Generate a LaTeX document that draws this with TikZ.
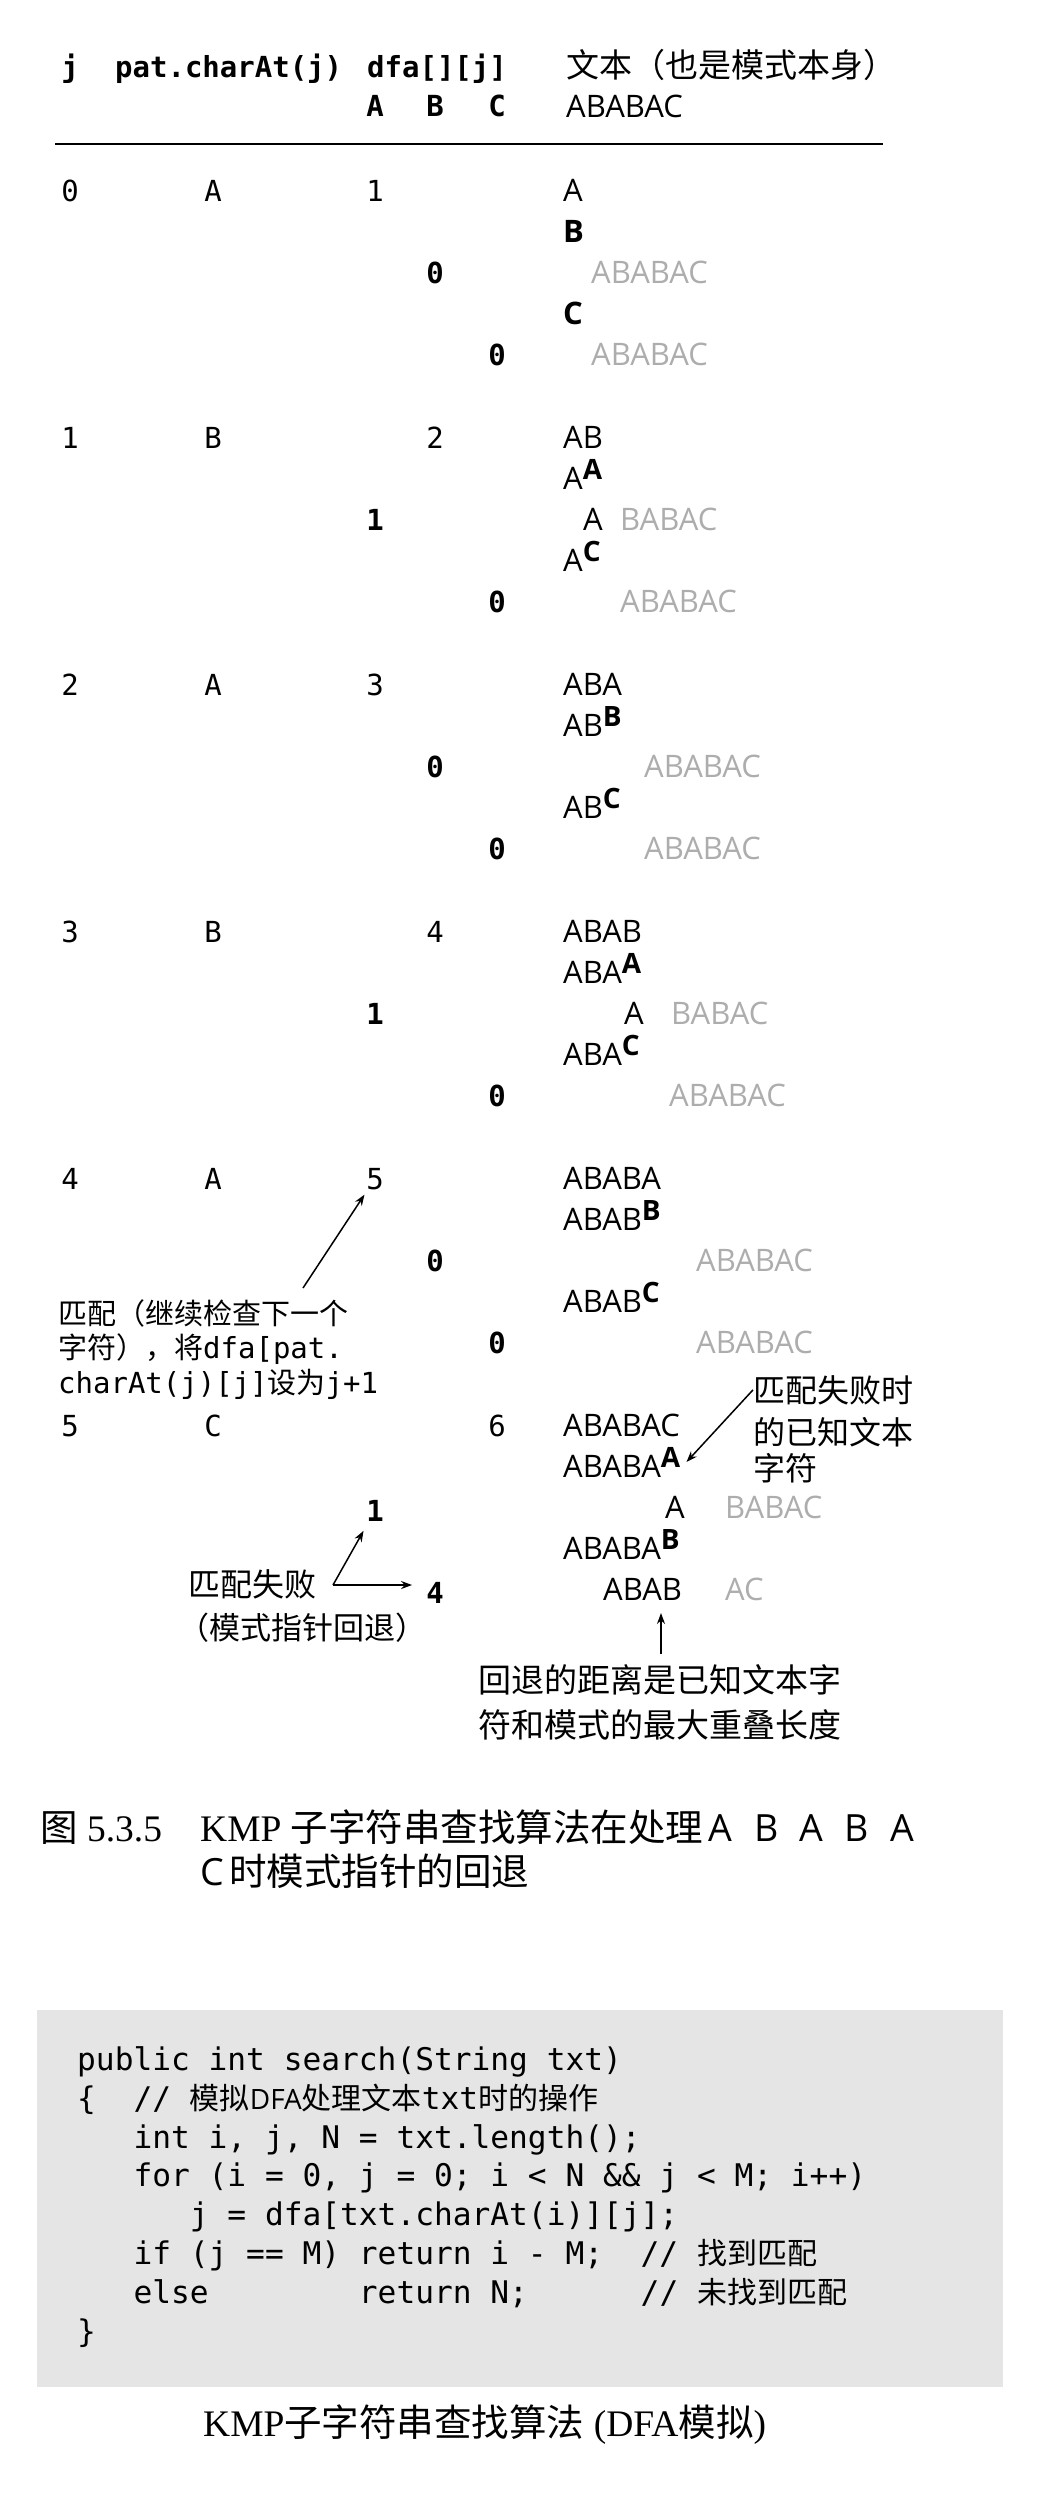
\documentclass[tikz,border=0pt]{standalone}
\usepackage{fontspec}
\setmainfont{Liberation Serif}
\setsansfont{Open Sans}
\setmonofont{DejaVu Sans Mono}
\newfontfamily\cjk{Noto Sans CJK SC}
\usetikzlibrary{arrows.meta}

% bold mismatch letter, raised
\newcommand{\hit}[1]{\raisebox{10pt}{\fontsize{28}{30}\selectfont\bfseries #1}}

\tikzset{
  every node/.style={inner sep=0pt, anchor=base},
  tab/.style={font=\fontsize{29}{34}\selectfont\ttfamily},
  tabbold/.style={font=\fontsize{29}{34}\selectfont\ttfamily\bfseries},
  txt/.style={font=\fontsize{31}{36}\selectfont\sffamily, anchor=base west},
  ghost/.style={txt, text=black!32},
  note/.style={font=\fontsize{30}{36}\selectfont\cjk, anchor=base west},
  captxt/.style={font=\fontsize{37.5}{44}\selectfont\rmfamily, anchor=base west},
  code/.style={font=\fontsize{31.2}{38}\selectfont\ttfamily, anchor=base west},
  arr/.style={->, line width=1.5pt},
  >={Stealth[length=11pt,width=8pt]}
}

\begin{document}
\begin{tikzpicture}[x=1pt,y=-1pt]
        \useasboundingbox (0,0) rectangle (1046,2502);
        % header
        \node[tabbold] (hj) at (70,78) {j};
        \node[tabbold, anchor=base west] (hpat) at (115,78) {pat.charAt(j)};
        \node[tabbold, anchor=base west] (hdfa) at (367,78) {dfa[][j]};
        \node[note, font=\fontsize{33}{36}\selectfont\cjk] (htxt) at (566,78) {文本（也是模式本身）};
        \node[tabbold] (ha) at (375,117) {A};
        \node[tabbold] (hb) at (435,117) {B};
        \node[tabbold] (hc) at (497,117) {C};
        \node[txt] (hpat2) at (566,118) {ABABAC};
        \draw[line width=1.6pt] (55,144) -- (883,144);
        % j = 0
        \node[tab] (j0) at (70,201) {0};
        \node[tab] (p0) at (213,201) {A};
        \node[tab] (d0a) at (375,201) {1};
        \node[tabbold] (d0b) at (435,283) {0};
        \node[tabbold] (d0c) at (497,365) {0};
        \node[txt] (t0a) at (563,201) {A};
        \node[txt] (t0b) at (563,242) {\textbf{B}};
        \node[ghost] (g0c) at (591,283) {ABABAC};
        \node[txt] (t0d) at (563,324) {\textbf{C}};
        \node[ghost] (g0e) at (591,365) {ABABAC};
        % j = 1
        \node[tab] (j1) at (70,448) {1};
        \node[tab] (p1) at (213,448) {B};
        \node[tab] (d1b) at (435,448) {2};
        \node[tabbold] (d1a) at (375,530) {1};
        \node[tabbold] (d1c) at (497,612) {0};
        \node[txt] (t1a) at (563,448) {AB};
        \node[txt] (t1b) at (563,489) {A\hit{A}};
        \node[txt] (t1c) at (583,530) {A};
        \node[ghost] (g1c) at (620,530) {BABAC};
        \node[txt] (t1d) at (563,571) {A\hit{C}};
        \node[ghost] (g1e) at (620,612) {ABABAC};
        % j = 2
        \node[tab] (j2) at (70,695) {2};
        \node[tab] (p2) at (213,695) {A};
        \node[tab] (d2a) at (375,695) {3};
        \node[tabbold] (d2b) at (435,777) {0};
        \node[tabbold] (d2c) at (497,859) {0};
        \node[txt] (t2a) at (563,695) {ABA};
        \node[txt] (t2b) at (563,736) {AB\hit{B}};
        \node[ghost] (g2c) at (644,777) {ABABAC};
        \node[txt] (t2d) at (563,818) {AB\hit{C}};
        \node[ghost] (g2e) at (644,859) {ABABAC};
        % j = 3
        \node[tab] (j3) at (70,942) {3};
        \node[tab] (p3) at (213,942) {B};
        \node[tab] (d3b) at (435,942) {4};
        \node[tabbold] (d3a) at (375,1024) {1};
        \node[tabbold] (d3c) at (497,1106) {0};
        \node[txt] (t3a) at (563,942) {ABAB};
        \node[txt] (t3b) at (563,983) {ABA\hit{A}};
        \node[txt] (t3c) at (624,1024) {A};
        \node[ghost] (g3c) at (671,1024) {BABAC};
        \node[txt] (t3d) at (563,1065) {ABA\hit{C}};
        \node[ghost] (g3e) at (669,1106) {ABABAC};
        % j = 4
        \node[tab] (j4) at (70,1189) {4};
        \node[tab] (p4) at (213,1189) {A};
        \node[tab] (d4a) at (375,1189) {5};
        \node[tabbold] (d4b) at (435,1271) {0};
        \node[tabbold] (d4c) at (497,1353) {0};
        \node[txt] (t4a) at (563,1189) {ABABA};
        \node[txt] (t4b) at (563,1230) {ABAB\hit{B}};
        \node[ghost] (g4c) at (696,1271) {ABABAC};
        \node[txt] (t4d) at (563,1312) {ABAB\hit{C}};
        \node[ghost] (g4e) at (696,1353) {ABABAC};
        % j = 5
        \node[tab] (j5) at (70,1436) {5};
        \node[tab] (p5) at (213,1436) {C};
        \node[tab] (d5c) at (497,1436) {6};
        \node[tabbold] (d5a) at (375,1521) {1};
        \node[tabbold] (d5b) at (435,1603) {4};
        \node[txt] (t5a) at (563,1436) {ABABAC};
        \node[txt] (t5b) at (563,1477) {ABABA\hit{A}};
        \node[txt] (t5c) at (665,1518) {A};
        \node[ghost] (g5c) at (725,1518) {BABAC};
        \node[txt] (t5d) at (563,1559) {ABABA\hit{B}};
        \node[txt] (t5e) at (603,1600) {ABAB};
        \node[ghost] (g5e) at (725,1600) {AC};
        % notes
        \node[note, font=\fontsize{29}{34}\selectfont\cjk] (m1) at (58,1324) {匹配（继续检查下一个};
        \node[note, font=\fontsize{29}{34}\selectfont\cjk] (m2) at (58,1358) {字符），将{\ttfamily dfa[pat.}};
        \node[note, font=\fontsize{29}{34}\selectfont\cjk] (m3) at (58,1393) {{\ttfamily charAt(j)[j]}设为{\ttfamily j+1}};
        \coordinate (mtail) at (303,1288);
        \draw[arr, shorten >=6pt] (mtail) -- (d4a);
        \node[note, font=\fontsize{32}{36}\selectfont\cjk] (f1) at (188,1596) {匹配失败};
        \node[note, font=\fontsize{31}{36}\selectfont\cjk] (f2) at (178,1639) {（模式指针回退）};
        \coordinate (fcorner) at (333,1585);
        \draw[arr, shorten >=11pt] (fcorner) -- (d5a);
        \draw[arr, shorten >=14pt] (fcorner) -- (fcorner -| d5b.west);
        \node[note, font=\fontsize{32}{36}\selectfont\cjk] (k1) at (753,1402) {匹配失败时};
        \node[note, font=\fontsize{32}{36}\selectfont\cjk] (k2) at (753,1444) {的已知文本};
        \node[note, font=\fontsize{32}{36}\selectfont\cjk] (k3) at (753,1480) {字符};
        \draw[arr] (k1.west) -- ([xshift=6pt]t5b.east);
        \node[note, font=\fontsize{33}{36}\selectfont\cjk] (b1) at (478,1692) {回退的距离是已知文本字};
        \node[note, font=\fontsize{33}{36}\selectfont\cjk] (b2) at (478,1737) {符和模式的最大重叠长度};
        \coordinate (btip) at (661,1613);
        \draw[arr, shorten <=10pt] (b1.north -| btip) -- (btip);
        % figure caption
        \node[captxt] (cap1) at (40,1841) {{\cjk 图}~5.3.5};
        \node[captxt] (cap2) at (200,1841) {KMP~{\cjk 子字符串查找算法在处理}\hspace{0.15em}{\sffamily A\hspace{0.57em}B\hspace{0.57em}A\hspace{0.57em}B\hspace{0.57em}A}};
        \node[captxt] (cap3) at (200,1885) {{\sffamily C}\hspace{0.15em}{\cjk 时模式指针的回退}};
        % code box
        \fill[gray!20] (37,2010) rectangle (1003,2387);
        \node[code] (c1) at (77,2070) {public~int~search(String~txt)};
        \node[code] (c2) at (77,2109) {\{~~//~{\cjk\fontsize{30}{36}\selectfont 模拟}{\sffamily\fontsize{28}{36}\selectfont DFA}{\cjk\fontsize{30}{36}\selectfont 处理文本}txt{\cjk\fontsize{30}{36}\selectfont 时的操作}};
        \node[code] (c3) at (77,2148) {~~~int~i,~j,~N~=~txt.length();};
        \node[code] (c4) at (77,2186) {~~~for~(i~=~0,~j~=~0;~i~<~N~\&\&~j~<~M;~i++)};
        \node[code] (c5) at (77,2225) {~~~~~~j~=~dfa[txt.charAt(i)][j];};
        \node[code] (c6) at (77,2264) {~~~if~(j~==~M)~return~i~-~M;~~//~{\cjk\fontsize{30}{36}\selectfont 找到匹配}};
        \node[code] (c7) at (77,2303) {~~~else~~~~~~~~return~N;~~~~~~//~{\cjk\fontsize{30}{36}\selectfont 未找到匹配}};
        \node[code] (c8) at (77,2342) {\}};
        \node[captxt] (cap4) at (203,2436) {KMP{\cjk 子字符串查找算法}~(DFA{\cjk 模拟})};
    \end{tikzpicture}
\end{document}
